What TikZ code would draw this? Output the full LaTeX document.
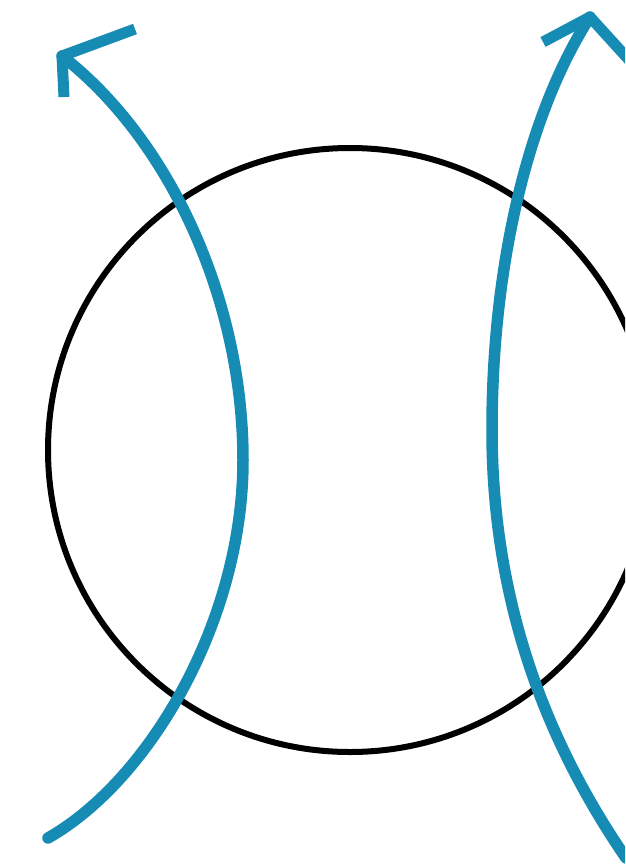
\documentclass[tikz,border=0pt]{standalone}
\usepackage{xcolor}
\definecolor{cLine}{HTML}{000000}
\definecolor{cFlow}{HTML}{168CB4}
\usepackage{tikz}
\tikzset{
  ring/.style={draw=cLine,line width=6pt},
  flow/.style={draw=cFlow,line width=11.5pt,line cap=round,line join=round},
  flow-head/.style={draw=cFlow,line width=11pt,line cap=butt,line join=round},
}

\begin{document}
\begin{tikzpicture}[x=10pt,y=-10pt]
  \useasboundingbox (0,0) rectangle (62.5,86.8);
  \clip (0,0) rectangle (62.5,86.8);
  % circle
  \draw[ring] (35,45) circle[radius=30.2];
  % left flow line
  \coordinate (lfoot) at (4.8,83.8);
  \coordinate (lmid)  at (24.3,46.0);
  \coordinate (ltip)  at (6.2,5.6);
  \draw[flow] (lfoot) .. controls (15.0,78.0) and (24.3,62.0) .. (lmid)
    .. controls (24.3,30.0) and (17.0,14.0) .. (ltip);
  \draw[flow-head] (6.4,9.7) -- (ltip) -- (13.5,2.9);
  % right flow line
  \coordinate (rfoot) at (62.6,85.8);
  \coordinate (rmid)  at (49.2,43.0);
  \coordinate (rtip)  at (59.0,1.7);
  \draw[flow] (rfoot) .. controls (54.5,74.0) and (49.2,60.0) .. (rmid)
    .. controls (49.2,26.0) and (53.0,11.0) .. (rtip);
  \draw[flow-head] (54.3,4.2) -- (rtip) -- (64.0,7.2);
\end{tikzpicture}
\end{document}
